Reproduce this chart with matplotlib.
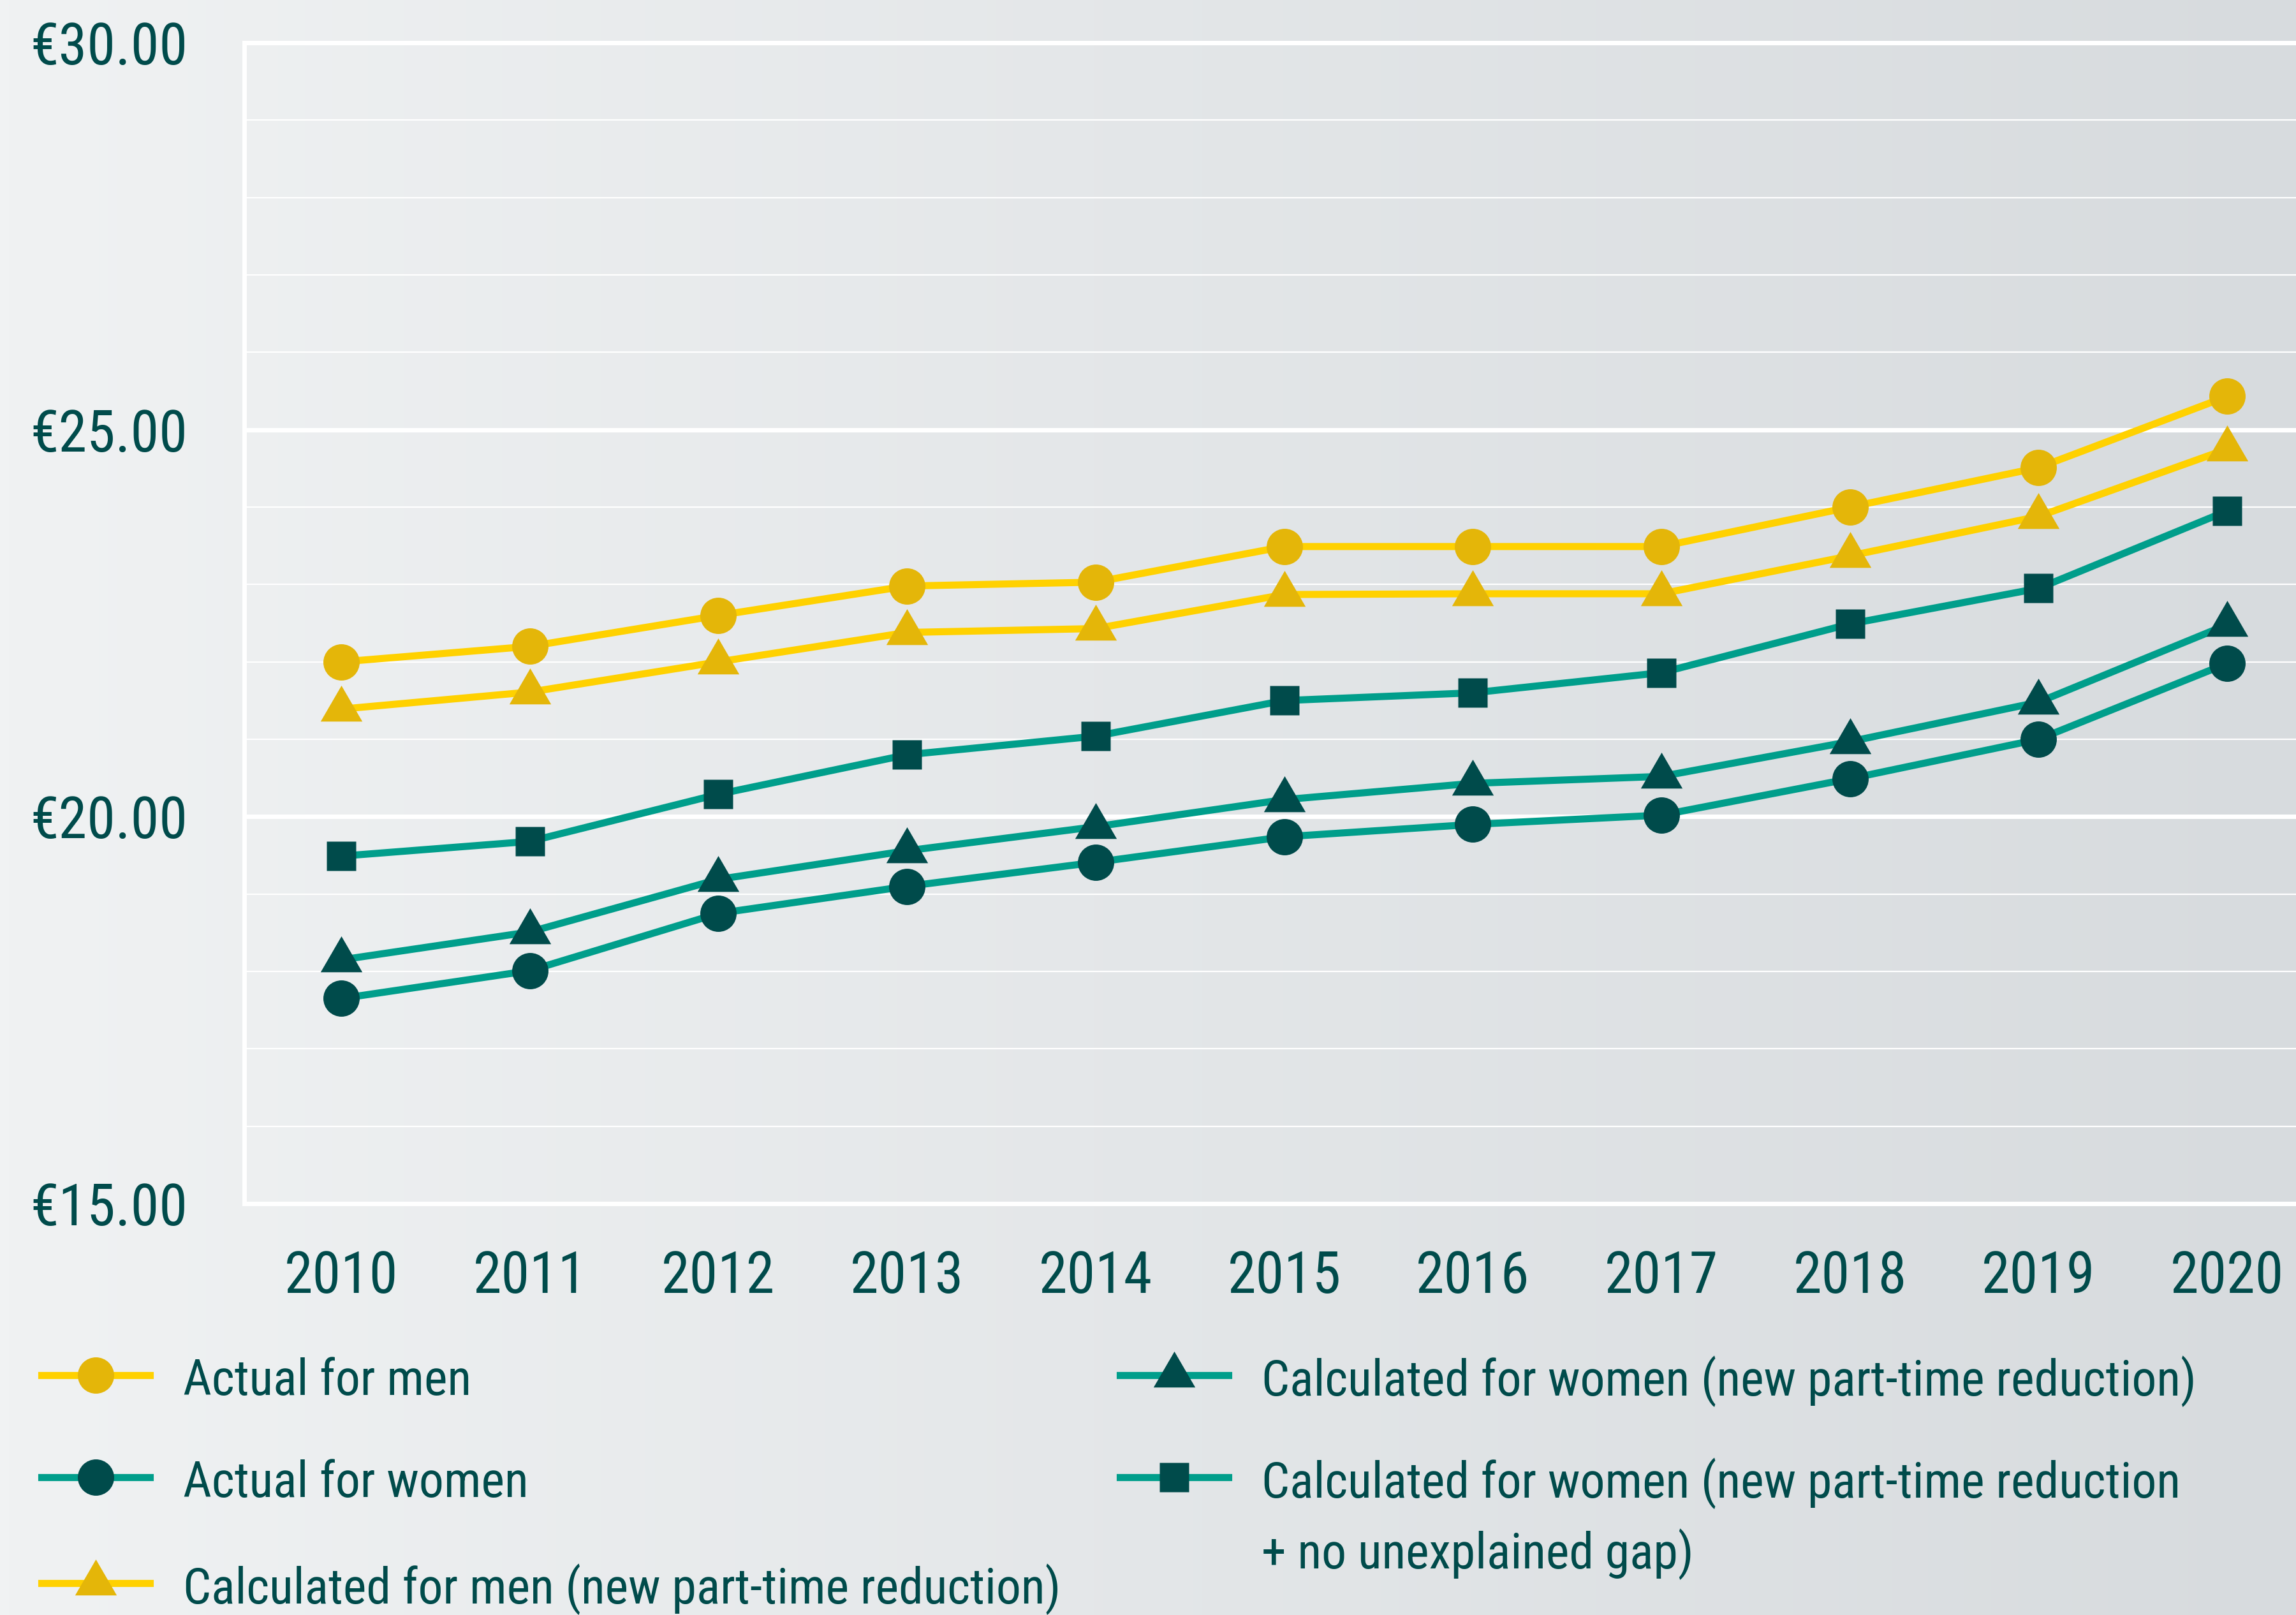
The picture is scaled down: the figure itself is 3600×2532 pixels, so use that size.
import numpy as np
import matplotlib
matplotlib.use("Agg")
import matplotlib.pyplot as plt
from matplotlib import font_manager
from matplotlib.lines import Line2D
from matplotlib.colors import LinearSegmentedColormap

# data (hourly wage, EUR)
years = [2010, 2011, 2012, 2013, 2014, 2015, 2016, 2017, 2018, 2019, 2020]
actual_men = [22.0, 22.2, 22.6, 22.98, 23.03, 23.49, 23.49, 23.49, 24.0, 24.51, 25.43]
actual_women = [17.65, 18.01, 18.75, 19.1, 19.41, 19.74, 19.9, 20.02, 20.49, 21.0, 21.98]
calc_men = [21.39, 21.61, 22.0, 22.38, 22.43, 22.87, 22.88, 22.88, 23.37, 23.88, 24.75]
calc_women = [18.15, 18.51, 19.19, 19.56, 19.87, 20.22, 20.43, 20.52, 20.97, 21.48, 22.48]
calc_women_nogap = [19.49, 19.68, 20.29, 20.8, 21.04, 21.5, 21.6, 21.86, 22.49, 22.95, 23.95]

labels = ["Actual for men",
          "Actual for women",
          "Calculated for men (new part-time reduction)",
          "Calculated for women (new part-time reduction)",
          "Calculated for women (new part-time reduction\n+ no unexplained gap)"]
ytick_vals = [15, 20, 25, 30]
ytick_labels = ["€15.00", "€20.00", "€25.00", "€30.00"]

YEL_LINE = "#FFD100"
YEL_MARK = "#E4B609"
TEAL_LINE = "#009E8B"
DARK = "#004B4B"

# triangle with its centroid on the data point
tri = [(0, 37.3), (-32.5, -18.7), (32.5, -18.7), (0, 37.3)]

styles = [
    dict(color=YEL_LINE, marker="o", mfc=YEL_MARK, ms=41),
    dict(color=TEAL_LINE, marker="o", mfc=DARK, ms=41),
    dict(color=YEL_LINE, marker=tri, mfc=YEL_MARK, ms=54),
    dict(color=TEAL_LINE, marker=tri, mfc=DARK, ms=54),
    dict(color=TEAL_LINE, marker="s", mfc=DARK, ms=33),
]
series = [actual_men, actual_women, calc_men, calc_women, calc_women_nogap]

# font: look for a condensed sans close to Univers Condensed
wanted = ["Roboto Condensed", "Archivo Narrow", "PT Sans Narrow", "Fira Sans Condensed",
          "IBM Plex Sans Condensed", "Encode Sans Condensed", "Barlow Semi Condensed",
          "Open Sans Condensed", "Liberation Sans Narrow", "Arial Narrow"]
have = {f.name for f in font_manager.fontManager.ttflist}
family = None
for f in wanted:
    if f in have:
        family = f
        break
if family is None:
    cands = sorted(f.name for f in font_manager.fontManager.ttflist
                   if ("Condensed" in f.name or "Narrow" in f.name) and "Mono" not in f.name)
    family = cands[0] if cands else "Liberation Sans"
plt.rcParams["font.family"] = [family, "DejaVu Sans"]

W, H = 3600, 2532
fig = plt.figure(figsize=(W / 100, H / 100), dpi=100)

# background gradient
bg = fig.add_axes([0, 0, 1, 1], zorder=-10)
grad = np.linspace(0, 1, 256).reshape(1, -1)
cmap = LinearSegmentedColormap.from_list("bg", ["#F0F2F3", "#D7DBDE"])
bg.imshow(grad, aspect="auto", cmap=cmap, extent=[0, 1, 0, 1])
bg.axis("off")

ax = fig.add_axes([383 / W, 1 - 1887 / H, 1 - 383 / W, (1887 - 67) / H])
ax.patch.set_alpha(0)

for vals, st in zip(series, styles):
    ax.plot(years, vals, lw=8, mec="none", clip_on=False, zorder=3, **st)

ax.set_xlim(2009.486, 2020.365)
ax.set_ylim(15, 30)
ax.set_xticks(years)
ax.set_xticklabels([str(y) for y in years])
ax.set_yticks(ytick_vals)
ax.set_yticklabels(ytick_labels)
ax.set_yticks(np.arange(15, 31, 1), minor=True)
ax.grid(True, which="major", axis="y", color="white", lw=5, zorder=1)
ax.grid(True, which="minor", axis="y", color="white", lw=1.6, zorder=1)
ax.set_axisbelow(True)
ax.tick_params(axis="both", which="both", length=0, colors=DARK)
ax.tick_params(axis="y", labelsize=65, pad=64)
ax.tick_params(axis="x", labelsize=65, pad=52)
for side in ["left", "top", "bottom"]:
    ax.spines[side].set_color("white")
    ax.spines[side].set_linewidth(5)
ax.spines["right"].set_visible(False)

# legend drawn by hand
leg_pos = [(65, 2156), (65, 2316), (65, 2482), (1756, 2156), (1756, 2316)]
for (x0, y0), st, lab in zip(leg_pos, styles, labels):
    yf = 1 - y0 / H
    fig.add_artist(Line2D([x0 / W, (x0 + 170) / W], [yf, yf], transform=fig.transFigure,
                          color=st["color"], lw=8))
    fig.add_artist(Line2D([(x0 + 85) / W], [yf], transform=fig.transFigure,
                          marker=st["marker"], ms=st["ms"], mfc=st["mfc"], mec="none", lw=0))
    first, *rest = lab.split("\n")
    fig.text((x0 + 222) / W, 1 - (y0 + 10) / H, first, color=DARK, fontsize=56,
             va="center", ha="left")
    for k, line in enumerate(rest, start=1):
        fig.text((x0 + 222) / W, 1 - (y0 + 10 + 111 * k) / H, line, color=DARK, fontsize=56,
                 va="center", ha="left")

fig.savefig("out.png", dpi=100)
